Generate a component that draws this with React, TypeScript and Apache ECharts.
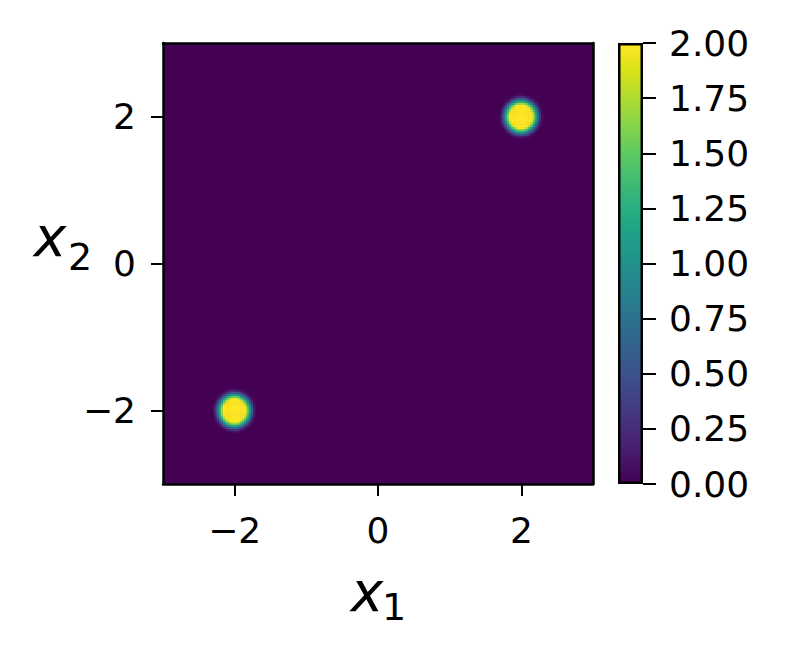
import React, { useEffect, useRef } from "react";
import * as echarts from "echarts";

// ---- data ----
const gridCells = 200; // heatmap resolution per axis
const axisMin = -3;
const axisMax = 3;
const tickValues = [-2, 0, 2];
const bumpX = [-2, 2];
const bumpY = [-2, 2];
// radial profile of each bump (distance in axis units -> value)
const profileRadius = [0, 0.16, 0.19, 0.22, 0.25, 0.28, 0.31];
const profileValue = [2, 2, 1.5, 1.0, 0.5, 0.12, 0];
const colorbarMin = 0;
const colorbarMax = 2;
const colorbarStep = 0.25;
const viridis = [
  "#440154", "#48186a", "#472d7b", "#424086", "#3b528b", "#33638d",
  "#2c728e", "#26828e", "#21918c", "#1fa088", "#28ae80", "#3fbc73",
  "#5ec962", "#84d44b", "#addc30", "#d8e219", "#fde725",
];

function profileAt(r: number): number {
  if (r >= profileRadius[profileRadius.length - 1]) return 0;
  for (let k = 1; k < profileRadius.length; k++) {
    if (r <= profileRadius[k]) {
      const t = (r - profileRadius[k - 1]) / (profileRadius[k] - profileRadius[k - 1]);
      return profileValue[k - 1] + t * (profileValue[k] - profileValue[k - 1]);
    }
  }
  return 0;
}

const FONT = "DejaVu Sans";

export default function App() {
  const ref = useRef<HTMLDivElement>(null);
  useEffect(() => {
    document.body.style.margin = "0";
    const chart = echarts.init(ref.current!, undefined, { renderer: "svg" });
    const step = (axisMax - axisMin) / gridCells;
    const cats: string[] = [];
    for (let i = 0; i < gridCells; i++) cats.push(String(i));
    const heat: number[][] = [];
    for (let i = 0; i < gridCells; i++) {
      const x = axisMin + (i + 0.5) * step;
      for (let j = 0; j < gridCells; j++) {
        const y = axisMin + (j + 0.5) * step;
        let r = Infinity;
        for (let b = 0; b < bumpX.length; b++) {
          r = Math.min(r, Math.hypot(x - bumpX[b], y - bumpY[b]));
        }
        const v = profileAt(r);
        if (v > 0.003) heat.push([i, j, v]);
      }
    }
    const gradient = new echarts.graphic.LinearGradient(
      0, 1, 0, 0,
      viridis.map((c, k) => ({ offset: k / (viridis.length - 1), color: c }))
    );
    const minus = (v: number) => (v < 0 ? "\u2212" + Math.abs(v) : String(v));
    const tickStyle = { show: true, length: 12, inside: false, lineStyle: { color: "#000", width: 2 } };
    const labelStyle = { color: "#000", fontFamily: FONT, fontSize: 36 };
    const frameLine = { show: true, onZero: false, lineStyle: { color: "#000", width: 2.5 } };
    const frameOnly = {
      type: "value", gridIndex: 0, min: axisMin, max: axisMax,
      axisLine: frameLine, axisTick: { show: false }, axisLabel: { show: false }, splitLine: { show: false },
    };

    chart.setOption({
      animation: false,
      grid: [
        { left: 163, top: 43, width: 430, height: 441, show: true, backgroundColor: "#440154", borderWidth: 0 },
        { left: 618, top: 43, width: 25, height: 441, show: false },
      ],
      xAxis: [
        { type: "category", gridIndex: 0, data: cats, show: false },
        {
          type: "value", gridIndex: 0, min: axisMin, max: axisMax, position: "bottom",
          axisLine: frameLine, splitLine: { show: false },
          axisTick: { ...tickStyle, customValues: tickValues },
          axisLabel: { ...labelStyle, margin: 28, customValues: tickValues, formatter: minus },
        },
        { type: "category", gridIndex: 1, data: ["c"], show: false },
        { ...frameOnly, position: "top" },
      ],
      yAxis: [
        { type: "category", gridIndex: 0, data: cats, show: false },
        {
          type: "value", gridIndex: 0, min: axisMin, max: axisMax, position: "left",
          axisLine: frameLine, splitLine: { show: false },
          axisTick: { ...tickStyle, customValues: tickValues },
          axisLabel: { ...labelStyle, margin: 27, customValues: tickValues, formatter: minus },
        },
        {
          type: "value", gridIndex: 1, min: colorbarMin, max: colorbarMax, interval: colorbarStep, position: "right",
          axisLine: { show: false }, splitLine: { show: false },
          axisTick: { ...tickStyle, length: 13 },
          axisLabel: { ...labelStyle, margin: 26, formatter: (v: number) => v.toFixed(2) },
        },
        { ...frameOnly, position: "right" },
      ],
      visualMap: {
        type: "continuous", show: false, min: colorbarMin, max: colorbarMax, dimension: 2,
        seriesIndex: 0, inRange: { color: viridis },
      },
      series: [
        {
          type: "heatmap", xAxisIndex: 0, yAxisIndex: 0, data: heat, progressive: 0,
          emphasis: { disabled: true }, silent: true,
        },
        {
          type: "bar", xAxisIndex: 2, yAxisIndex: 2, data: [colorbarMax], barWidth: "100%",
          itemStyle: { color: gradient, borderColor: "#000", borderWidth: 2.5 },
          emphasis: { disabled: true }, silent: true,
        },
      ],
      graphic: [
        { type: "text", x: 367, y: 591.5, style: { text: "x", fontFamily: FONT, fontStyle: "italic", fontSize: 55, fill: "#000", align: "center", verticalAlign: "middle" } },
        { type: "text", x: 394, y: 606.6, style: { text: "1", fontFamily: FONT, fontSize: 38, fill: "#000", align: "center", verticalAlign: "middle" } },
        { type: "text", x: 50, y: 236.5, style: { text: "x", fontFamily: FONT, fontStyle: "italic", fontSize: 55, fill: "#000", align: "center", verticalAlign: "middle" } },
        { type: "text", x: 80, y: 256.6, style: { text: "2", fontFamily: FONT, fontSize: 38, fill: "#000", align: "center", verticalAlign: "middle" } },
      ],
    });
    return () => chart.dispose();
  }, []);
  return <div ref={ref} style={{ width: 789, height: 652 }} />;
}
